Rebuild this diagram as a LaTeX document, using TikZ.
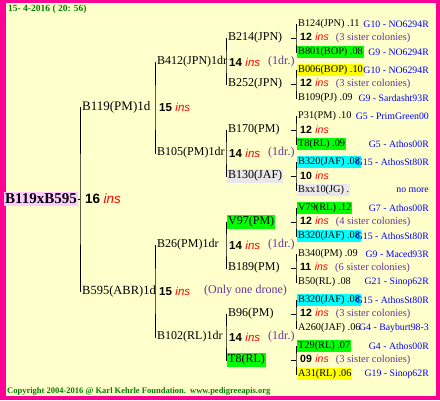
\documentclass[tikz,border=0pt]{standalone}
\usepackage{fontspec}
\setmainfont{Liberation Serif}
\setsansfont{Liberation Sans}
\usetikzlibrary{positioning}
\definecolor{framepink}{RGB}{255,0,150}
\definecolor{paper}{RGB}{255,255,204}
\definecolor{hlgreen}{RGB}{0,255,0}
\definecolor{hlcyan}{RGB}{0,255,255}
\definecolor{hlyellow}{RGB}{255,255,0}
\definecolor{hlgray}{RGB}{232,232,232}
\definecolor{rootpink}{RGB}{255,204,255}
\definecolor{stampgreen}{RGB}{0,128,0}
\definecolor{notepurple}{RGB}{102,51,153}
\definecolor{insred}{RGB}{255,0,0}
\definecolor{linkblue}{RGB}{0,0,255}
\newcommand{\cnt}[2]{{\fontsize{#2}{#2}\selectfont\sffamily\bfseries #1}\hspace{0.35em}{\color{insred}\fontsize{#2}{#2}\selectfont\sffamily\itshape ins}}
\newcommand{\sis}[1]{\hspace{7pt}{\color{notepurple}\fontsize{10.5}{10.5}\selectfont(#1 sister colonies)}}

\begin{document}
\begin{tikzpicture}[x=1pt, y=-1pt,
    nm/.style={anchor=west, inner xsep=1pt, inner ysep=1.5pt, font=\fontsize{12}{12}\selectfont},
    gf/.style={anchor=west, inner xsep=1pt, inner ysep=1.5pt, font=\fontsize{10.3}{10.3}\selectfont},
    cnt/.style={anchor=west, inner sep=0pt},
    note/.style={anchor=west, inner sep=0pt, text=notepurple, font=\fontsize{12}{12}\selectfont},
    gid/.style={anchor=east, inner sep=0pt, text=linkblue, font=\fontsize{9.8}{10}\selectfont},
    stamp/.style={anchor=west, inner sep=0pt, text=stampgreen, font=\fontsize{8.5}{9}\selectfont\bfseries},
    link/.style={line width=0.9pt}
]
% frame and paper
\fill[framepink] (0,0) rectangle (440,400);
\fill[paper] (6,3) rectangle (436,396);
\useasboundingbox (0,0) rectangle (440,400);

\node[stamp, font=\fontsize{9.5}{10}\selectfont\bfseries] (date) at (8,9) {15- 4-2016 ( 20: 56)};

% queen
\node[anchor=west, fill=rootpink, inner xsep=1pt, inner ysep=2pt, font=\fontsize{15}{15}\selectfont\bfseries] (root) at (4,199) {B119xB595};
\node[cnt] (rootn) at (85,199) {\cnt{16}{13.5}};

% parents
\node[nm, font=\fontsize{13}{13}\selectfont] (p) at (81,107) {B119(PM)1d};
\node[cnt] (pn) at (159,107) {\cnt{15}{11.5}};
\node[nm, font=\fontsize{12.5}{13}\selectfont] (m) at (81,291) {B595(ABR)1d};
\node[cnt] (mn) at (159,291) {\cnt{15}{11.5}};
\node[note] (mnote) at (204,291) {(Only one drone)};

% grandparents
\node[nm] (pp) at (156,62)  {B412(JPN)1dr};
\node[nm] (pm) at (156,153) {B105(PM)1dr};
\node[nm] (mp) at (156,245) {B26(PM)1dr};
\node[nm] (mm) at (156,337) {B102(RL)1dr};
\foreach \y/\n in {62/ppn,153/pmn,245/mpn,337/mmn} {
  \node[cnt] (\n) at (229,\y) {\cnt{14}{11.5}};
  \node[note] at (268,\y) {(1dr.)};
}

% great-grandparents
\node[nm] (ppp) at (227,38)  {B214(JPN)};
\node[nm] (ppm) at (227,84)  {B252(JPN)};
\node[nm] (pmp) at (227,130) {B170(PM)};
\node[nm, fill=hlgray] (pmm) at (227,176) {B130(JAF)};
\node[nm, fill=hlgreen] (mpp) at (227,222) {V97(PM)};
\node[nm] (mpm) at (227,268) {B189(PM)};
\node[nm] (mmp) at (227,314) {B96(PM)};
\node[nm, fill=hlgreen] (mmm) at (227,360) {T8(RL)};

% fourth generation
\node[gf] (a1) at (297,24)  {B124(JPN) .11};
\node[gf, fill=hlgreen] (a2) at (297,52) {B801(BOP) .08};
\node[gf, fill=hlyellow] (b1) at (297,70) {B006(BOP) .10};
\node[gf] (b2) at (297,98)  {B109(PJ) .09};
\node[gf] (c1) at (297,116) {P31(PM) .10};
\node[gf, fill=hlgreen] (c2) at (297,144) {T8(RL) .09};
\node[gf, fill=hlcyan] (d1) at (297,162) {B320(JAF) .08};
\node[gf, fill=hlgray] (d2) at (297,190) {Bxx10(JG) .};
\node[gf, fill=hlgreen] (e1) at (297,208) {V79(RL) .12};
\node[gf, fill=hlcyan] (e2) at (297,236) {B320(JAF) .08};
\node[gf] (f1) at (297,254) {B340(PM) .09};
\node[gf] (f2) at (297,282) {B50(RL) .08};
\node[gf, fill=hlcyan] (g1) at (297,300) {B320(JAF) .08};
\node[gf] (g2) at (297,328) {A260(JAF) .06};
\node[gf, fill=hlgreen] (h1) at (297,346) {T29(RL) .07};
\node[gf, fill=hlyellow] (h2) at (297,374) {A31(RL) .06};

\node[cnt] (an) at (300,38)  {\cnt{12}{10.5}\sis{3}};
\node[cnt] (bn) at (300,84)  {\cnt{12}{10.5}\sis{3}};
\node[cnt] (cn) at (300,130) {\cnt{12}{10.5}};
\node[cnt] (dn) at (300,176) {\cnt{10}{10.5}};
\node[cnt] (en) at (300,222) {\cnt{12}{10.5}\sis{4}};
\node[cnt] (fn) at (300,268) {\cnt{11}{10.5}\sis{6}};
\node[cnt] (gn) at (300,314) {\cnt{12}{10.5}\sis{3}};
\node[cnt] (hn) at (300,360) {\cnt{09}{10.5}\sis{3}};

% breeder ids
\node[gid] at (429,24)  {G10 - NO6294R};
\node[gid] at (429,52)  {G9 - NO6294R};
\node[gid] at (429,70)  {G10 - NO6294R};
\node[gid] at (429,98)  {G9 - Sardasht93R};
\node[gid] at (429,116) {G5 - PrimGreen00};
\node[gid] at (429,144) {G5 - Athos00R};
\node[gid] at (429,162) {G15 - AthosSt80R};
\node[gid] at (429,190) {no more};
\node[gid] at (429,208) {G7 - Athos00R};
\node[gid] at (429,236) {G15 - AthosSt80R};
\node[gid] at (429,254) {G9 - Maced93R};
\node[gid] at (429,282) {G21 - Sinop62R};
\node[gid] at (429,300) {G15 - AthosSt80R};
\node[gid] at (429,328) {G4 - Bayburt98-3};
\node[gid] at (429,346) {G4 - Athos00R};
\node[gid] at (429,374) {G19 - Sinop62R};

% brackets
\coordinate (j0) at (80,199);
\draw[link] (root.east) -- (j0);
\draw[link] (p.west) -| (j0) |- (m.west);
\coordinate (j1a) at (155,107);
\coordinate (j1b) at (155,291);
\draw[link] (pp.west) -| (j1a) |- (pm.west);
\draw[link] (mp.west) -| (j1b) |- (mm.west);
\coordinate (j2a) at (226,62);
\coordinate (j2b) at (226,153);
\coordinate (j2c) at (226,245);
\coordinate (j2d) at (226,337);
\draw[link] (ppp.west) -| (j2a) |- (ppm.west);
\draw[link] (pmp.west) -| (j2b) |- (pmm.west);
\draw[link] (mpp.west) -| (j2c) |- (mpm.west);
\draw[link] (mmp.west) -| (j2d) |- (mmm.west);
\foreach \t/\b/\y [count=\i] in {a1/a2/38,b1/b2/84,c1/c2/130,d1/d2/176,e1/e2/222,f1/f2/268,g1/g2/314,h1/h2/360} {
  \coordinate (j3\i) at (296,\y);
  \draw[link] (\t.west) -| (j3\i) |- (\b.west);
  \draw[link] (j3\i) -- ++(-5,0);
}

\node[stamp] (copy) at (7,391) {Copyright 2004-2016 @ Karl Kehrle Foundation.};
\node[stamp] (web) at (190,391) {www.pedigreeapis.org};
\end{tikzpicture}
\end{document}
